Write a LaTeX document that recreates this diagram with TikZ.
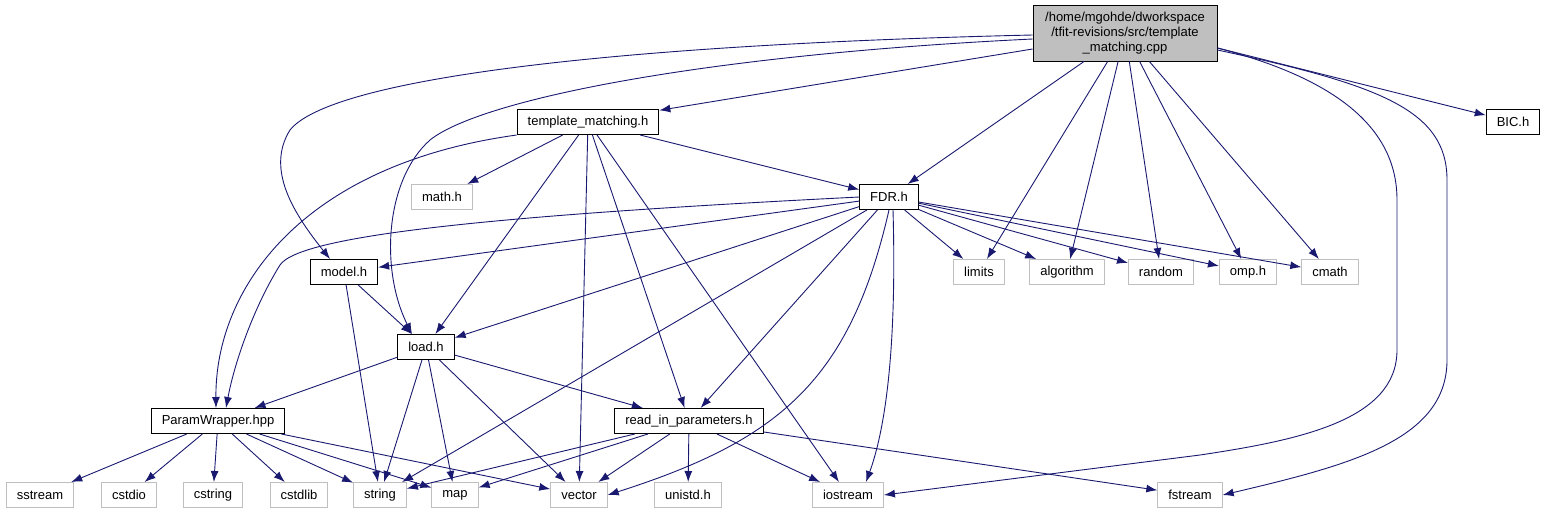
\documentclass[tikz,border=0pt]{standalone}
\usepackage{fontspec}
\setmainfont{Liberation Sans}
\usepackage{xcolor}
\usepackage{tikz}
\usetikzlibrary{arrows.meta}
\definecolor{edgeblue}{HTML}{191970}
\definecolor{nodegray}{HTML}{BFBFBF}

\begin{document}
\begin{tikzpicture}[x=1pt, y=-1pt, font=\fontsize{13}{15}\selectfont]
    \tikzstyle{header} = [rectangle, draw=black, fill=white, line width=1pt, inner xsep=10.5pt, inner ysep=0pt, minimum height=25pt, text centered]
    \tikzstyle{syshdr} = [header, draw=nodegray]
    \tikzstyle{line} = [draw=edgeblue, line width=0.9pt, -{Latex[length=11pt,width=8pt]}]

    \useasboundingbox (0,0) rectangle (1547,515);

    \node [header, fill=nodegray, align=center, minimum width=184pt, minimum height=56pt] (main) at (1125,33) {/home/mgohde/dworkspace\\/tfit-revisions/src/template\\\_matching.cpp};
    \node [header] (bic) at (1513,122) {BIC.h};
    \node [header] (tmh) at (588,122) {template\_matching.h};
    \node [syshdr] (mathh) at (442,197) {math.h};
    \node [header] (fdr) at (889,197) {FDR.h};
    \node [header] (modelh) at (344,272) {model.h};
    \node [syshdr] (limits) at (979,272) {limits};
    \node [syshdr] (algorithm) at (1067,272) {algorithm};
    \node [syshdr] (random) at (1161,272) {random};
    \node [syshdr] (omph) at (1248,272) {omp.h};
    \node [syshdr] (cmath) at (1330,272) {cmath};
    \node [header] (loadh) at (426,347) {load.h};
    \node [header] (pw) at (218,421) {ParamWrapper.hpp};
    \node [header] (rip) at (689,421) {read\_in\_parameters.h};
    \node [syshdr] (sstream) at (40,495) {sstream};
    \node [syshdr] (cstdio) at (129,495) {cstdio};
    \node [syshdr] (cstring) at (213,495) {cstring};
    \node [syshdr] (cstdlib) at (299,495) {cstdlib};
    \node [syshdr] (string) at (380,495) {string};
    \node [syshdr] (map) at (455,495) {map};
    \node [syshdr] (vector) at (579,495) {vector};
    \node [syshdr] (unistd) at (688,495) {unistd.h};
    \node [syshdr] (iostream) at (848,495) {iostream};
    \node [syshdr] (fstream) at (1190,495) {fstream};

    % includes of the cpp file
    \path [line] ([yshift=-2pt]main.west) .. controls (600,45) and (330,80) .. (290,130) .. controls (265,170) and (295,215) .. ([xshift=-14pt]modelh.north);
    \path [line] ([yshift=-6pt]main.west) .. controls (700,55) and (480,100) .. (430,140) .. controls (385,180) and (380,270) .. ([xshift=-14pt]loadh.north);
    \path [line] ([yshift=-16pt]main.west) -- (tmh);
    \path [line] (main) -- (fdr);
    \path [line] (main) -- (limits);
    \path [line] (main) -- (algorithm);
    \path [line] (main) -- (random);
    \path [line] (main) -- (omph);
    \path [line] (main) -- (cmath);
    \path [line] ([yshift=-15pt]main.east) .. controls (1340,80) and (1397,130) .. (1397,200) -- (1397,350) .. controls (1397,420) and (1300,440) .. (1200,455) -- (iostream.east);
    \path [line] ([yshift=-17pt]main.east) .. controls (1380,85) and (1447,110) .. (1447,180) -- (1447,360) .. controls (1447,440) and (1350,465) .. (fstream.east);
    \path [line] ([yshift=-15pt]main.east) -- (bic);

    % template_matching.h
    \path [line] (tmh.south west) .. controls (300,165) and (215,290) .. ([xshift=-2pt]pw.north);
    \path [line] (tmh) -- (mathh);
    \path [line] (tmh) -- (loadh);
    \path [line] (tmh) -- (vector);
    \path [line] (tmh) -- (rip);
    \path [line] (tmh) -- (iostream);
    \path [line] (tmh) -- (fdr);

    % FDR.h
    \path [line] (fdr.west) .. controls (500,215) and (300,235) .. (280,265) .. controls (255,305) and (235,360) .. ([xshift=8pt]pw.north);
    \path [line] (fdr) -- (modelh);
    \path [line] (fdr) -- (loadh);
    \path [line] (fdr) -- (string);
    \path [line] (fdr) -- (rip);
    \path [line] (fdr.south) .. controls (850,380) and (780,440) .. (vector.east);
    \path [line] ([xshift=4pt]fdr.south) .. controls (897,350) and (885,430) .. ([xshift=18pt]iostream.north);
    \path [line] (fdr) -- (limits);
    \path [line] (fdr) -- (algorithm);
    \path [line] (fdr) -- (random);
    \path [line] (fdr) -- (omph);
    \path [line] (fdr) -- (cmath);

    % model.h and load.h
    \path [line] (modelh) -- (loadh);
    \path [line] (modelh) -- (string);
    \path [line] (loadh) -- (pw);
    \path [line] (loadh) -- (string);
    \path [line] (loadh) -- (map);
    \path [line] (loadh) -- (vector);
    \path [line] (loadh) -- (rip);

    % ParamWrapper.hpp
    \path [line] (pw) -- (sstream);
    \path [line] (pw) -- (cstdio);
    \path [line] (pw) -- (cstring);
    \path [line] (pw) -- (cstdlib);
    \path [line] (pw) -- (string);
    \path [line] (pw) -- (map);
    \path [line] (pw) -- (vector);

    % read_in_parameters.h
    \path [line] (rip) -- (string);
    \path [line] (rip) -- (map);
    \path [line] (rip) -- (vector);
    \path [line] (rip) -- (unistd);
    \path [line] (rip) -- (iostream);
    \path [line] (rip) -- (fstream);
\end{tikzpicture}
\end{document}
